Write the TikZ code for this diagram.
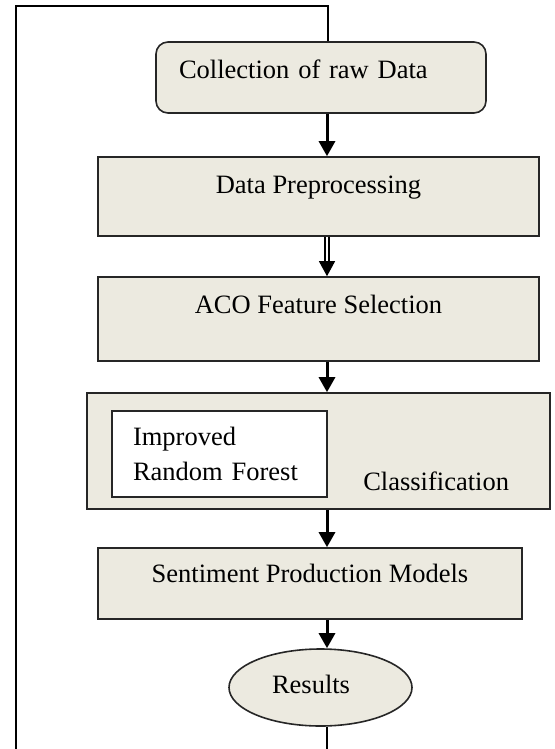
\documentclass[tikz,border=0pt]{standalone}
\usepackage{fontspec}
\setmainfont{Liberation Serif}
\usetikzlibrary{arrows.meta,shapes.geometric}
\definecolor{boxfill}{RGB}{236,234,224}

\tikzset{
  stage/.style={draw=black!85, line width=0.8pt, fill=boxfill,
    font=\fontsize{13.25}{17.5}\selectfont, text height=9pt},
  flow/.style={line width=1.5pt, -{Triangle[width=8pt,length=7.5pt]}},
  frame/.style={line width=1pt}
}

\begin{document}
\begin{tikzpicture}[x=0.5pt,y=-0.5pt]
        \useasboundingbox (0,0) rectangle (554,749);
        \coordinate (col) at (327,0);
        \coordinate (ftop) at (328,6);
        \coordinate (fleft) at (16,749);
        \coordinate (fbot) at (327,749);

        \node[stage, rounded corners=6pt, minimum width=165pt, minimum height=35.5pt,
          text width=142pt, inner xsep=11.5pt, align=left, text depth=7.5pt]
          (coll) at (321,77.5) {Collection of raw Data};
        \node[stage, minimum width=220.5pt, minimum height=39.5pt, text depth=12.5pt]
          (prep) at (318.5,196.5) {Data Preprocessing};
        \node[stage, minimum width=220.5pt, minimum height=42pt, text depth=15pt]
          (aco) at (318.5,319) {ACO Feature Selection};
        \node[stage, minimum width=231.5pt, minimum height=58pt, text width=190.5pt,
          inner xsep=20.5pt, align=right, text height=39pt, text depth=0pt]
          (cls) at (318.5,451) {Classification};
        \node[stage, fill=white, minimum height=43pt, text width=86.5pt, inner xsep=10.5pt,
          align=left, text height={}, text depth={}]
          (rf) at (219.5,454) {Improved\\Random Forest};
        \node[stage, minimum width=212pt, minimum height=35.5pt, text depth=10.5pt]
          (sent) at (310,583.5) {Sentiment Production Models};
        \node[stage, ellipse, minimum width=91.5pt, minimum height=38.5pt, text width=48.5pt,
          align=left, text depth=3.5pt]
          (res) at (320.5,687.5) {Results};

        \draw[flow] (coll.south -| col) -- (prep.north -| col);
        \draw[flow, line width=0.6pt, double, double distance=1.4pt] (prep.south -| col) -- (aco.north -| col);
        \draw[flow] (aco.south -| col) -- (cls.north -| col);
        \draw[flow] (cls.south -| col) -- (sent.north -| col);
        \draw[flow] (sent.south -| col) -- (res.north -| col);

        \draw[frame] (fleft) |- (ftop) -- (ftop |- coll.north);
        \draw[frame] (res.south -| fbot) -- (fbot);
    \end{tikzpicture}
\end{document}
